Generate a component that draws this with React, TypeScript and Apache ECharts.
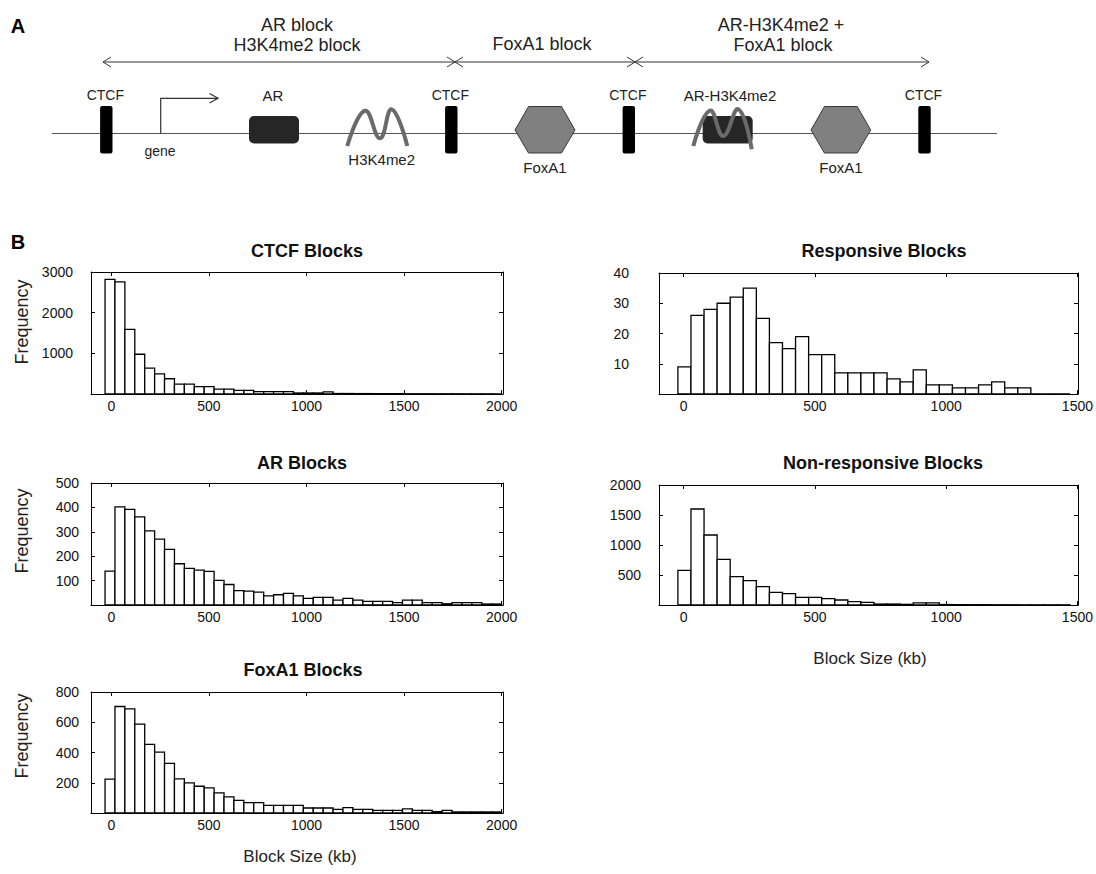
import React, { useEffect, useRef } from "react";
import * as echarts from "echarts";

// ---------- data ----------
const LEFT_BIN_START = -32;
const LEFT_BIN_WIDTH = 50.8;
const RIGHT_BIN_START = -22;
const RIGHT_BIN_WIDTH = 49.8;

const ctcfFreq = [2820, 2755, 1590, 978, 636, 497, 375, 245, 245, 180, 180, 122, 122, 90, 90, 57, 57, 57, 57, 25, 25, 25, 50, 12, 12, 10, 10, 8, 8, 8, 6, 6, 6, 5, 5, 5, 4, 4, 4, 3];
const arFreq = [139, 402, 392, 361, 304, 270, 228, 169, 150, 143, 138, 101, 84, 59, 57, 53, 37, 42, 48, 37, 27, 31, 31, 20, 27, 20, 15, 15, 15, 10, 20, 20, 10, 10, 5, 10, 10, 10, 4, 4];
const foxa1Freq = [224, 704, 689, 587, 454, 403, 328, 226, 199, 177, 166, 133, 106, 84, 69, 69, 51, 51, 51, 51, 33, 33, 33, 24, 35, 24, 24, 18, 18, 18, 27, 18, 18, 9, 18, 7, 7, 7, 7, 7];
const responsiveFreq = [9, 26, 28, 30, 32, 35, 25, 17, 15, 19, 13, 13, 7, 7, 7, 7, 5, 4, 8, 3, 3, 2, 2, 3, 4, 2, 2, 0, 0, 0];
const nonResponsiveFreq = [578, 1600, 1167, 761, 472, 406, 306, 211, 189, 128, 128, 106, 83, 56, 45, 16, 16, 11, 35, 35, 8, 6, 5, 5, 4, 4, 3, 3, 3, 3];

const leftXTicks = [0, 500, 1000, 1500, 2000];
const rightXTicks = [0, 500, 1000, 1500];

const FONT = '"Liberation Sans", Arial, Helvetica, sans-serif';

function toBins(values: number[], start: number, width: number) {
  return values.map((v, i) => [start + i * width, start + (i + 1) * width, v]);
}

const panels = [
  { title: "CTCF Blocks", titleX: 307, titleY: 251, values: ctcfFreq, binStart: LEFT_BIN_START, binWidth: LEFT_BIN_WIDTH, xMin: -104, xMax: 2007, xTicks: leftXTicks, yMax: 3000, yInterval: 1000, left: 91, top: 272, width: 412, height: 122, yMargin: 18 },
  { title: "AR Blocks", titleX: 302, titleY: 463, values: arFreq, binStart: LEFT_BIN_START, binWidth: LEFT_BIN_WIDTH, xMin: -104, xMax: 2007, xTicks: leftXTicks, yMax: 500, yInterval: 100, left: 91, top: 483, width: 412, height: 122, yMargin: 12 },
  { title: "FoxA1 Blocks", titleX: 303, titleY: 670, values: foxa1Freq, binStart: LEFT_BIN_START, binWidth: LEFT_BIN_WIDTH, xMin: -104, xMax: 2007, xTicks: leftXTicks, yMax: 800, yInterval: 200, left: 91, top: 692, width: 412, height: 121, yMargin: 12 },
  { title: "Responsive Blocks", titleX: 884, titleY: 251, values: responsiveFreq, binStart: RIGHT_BIN_START, binWidth: RIGHT_BIN_WIDTH, xMin: -94, xMax: 1502, xTicks: rightXTicks, yMax: 40, yInterval: 10, left: 659, top: 273, width: 420, height: 121, yMargin: 30 },
  { title: "Non-responsive Blocks", titleX: 883, titleY: 463, values: nonResponsiveFreq, binStart: RIGHT_BIN_START, binWidth: RIGHT_BIN_WIDTH, xMin: -94, xMax: 1502, xTicks: rightXTicks, yMax: 2000, yInterval: 500, left: 659, top: 485, width: 420, height: 120, yMargin: 18 },
];

function txt(text: string, x: number, y: number, size: number, opts: any = {}) {
  return {
    type: "text",
    x,
    y,
    rotation: opts.rotation || 0,
    style: {
      text,
      align: opts.align || "center",
      verticalAlign: "middle",
      font: `${opts.bold ? "bold " : ""}${size}px ${FONT}`,
      fill: opts.color || "#000",
    },
  };
}

function line(x1: number, y1: number, x2: number, y2: number, color = "#333", w = 1) {
  return { type: "line", shape: { x1, y1, x2, y2 }, style: { stroke: color, lineWidth: w } };
}

function chevron(x: number, y: number, dir: number) {
  return {
    type: "polyline",
    shape: { points: [[x - dir * 8, y - 5], [x, y], [x - dir * 8, y + 5]] },
    style: { stroke: "#333", lineWidth: 1, fill: "none" },
  };
}

function ctcfRect(cx: number) {
  return { type: "rect", shape: { x: cx - 6.2, y: 106, width: 12.4, height: 47.5, r: 2 }, style: { fill: "#000" } };
}

function hexagon(left: number, right: number) {
  const w = right - left;
  const t = w * 0.225;
  return {
    type: "polygon",
    shape: {
      points: [
        [left, 130],
        [left + t, 106.5],
        [right - t, 106.5],
        [right, 130],
        [right - t, 153],
        [left + t, 153],
      ],
    },
    style: { fill: "#808080", stroke: "#3a3a3a", lineWidth: 1 },
  };
}

function wave(points: number[][]) {
  return {
    type: "polyline",
    shape: { points, smooth: 0.45 },
    style: { stroke: "#6a6a6a", lineWidth: 4, fill: "none" },
  };
}

function buildGraphics() {
  const g: any[] = [];
  g.push(txt("A", 18, 26, 20, { bold: true }));
  g.push(txt("B", 18, 242, 20, { bold: true }));

  g.push(txt("AR block", 297, 25, 18, { color: "#222" }));
  g.push(txt("H3K4me2 block", 297, 45, 18, { color: "#222" }));
  g.push(txt("FoxA1 block", 542, 44, 18, { color: "#222" }));
  g.push(txt("AR-H3K4me2 +", 781, 25, 18, { color: "#222" }));
  g.push(txt("FoxA1 block", 783, 45, 18, { color: "#222" }));

  const ay = 62;
  const seg = [[103, 455], [455, 635], [635, 929]];
  seg.forEach(([a, b]) => {
    g.push(line(a, ay, b, ay, "#333", 1));
    g.push(chevron(a, ay, -1));
    g.push(chevron(b, ay, 1));
  });

  g.push(line(52, 133.5, 997, 133.5, "#555", 1));

  [106.3, 451.3, 628.8, 924.5].forEach((cx) => {
    g.push(ctcfRect(cx));
    g.push(txt("CTCF", cx - 1, 95, 14, { color: "#222" }));
  });

  g.push({
    type: "polyline",
    shape: { points: [[160.7, 133.5], [160.7, 98.3], [218, 98.3]] },
    style: { stroke: "#333", lineWidth: 1.2, fill: "none" },
  });
  g.push({
    type: "polyline",
    shape: { points: [[209.5, 93.5], [218, 98.3], [209.5, 103]] },
    style: { stroke: "#333", lineWidth: 1.2, fill: "none" },
  });
  g.push(txt("gene", 160, 151, 14, { color: "#222" }));

  g.push({ type: "rect", shape: { x: 249, y: 116, width: 50, height: 27.5, r: 5 }, style: { fill: "#262626" } });
  g.push(txt("AR", 273, 95, 15, { color: "#222" }));

  g.push(wave([[347.3, 146], [365, 110.7], [380, 138.3], [391.7, 109.3], [407.3, 146]]));
  g.push(txt("H3K4me2", 381.7, 159.5, 15, { color: "#222" }));

  g.push(hexagon(515, 575));
  g.push(txt("FoxA1", 545, 167.5, 15, { color: "#222" }));

  g.push({ type: "rect", shape: { x: 702.7, y: 116, width: 50, height: 27.5, r: 5 }, style: { fill: "#262626" } });
  g.push(wave([[693.3, 146], [710, 110.7], [723.3, 136], [738.3, 109.3], [751.7, 149.3]]));
  g.push(txt("AR-H3K4me2", 730, 95, 15, { color: "#222" }));

  g.push(hexagon(811, 870.7));
  g.push(txt("FoxA1", 841, 167.5, 15, { color: "#222" }));

  panels.forEach((p) => {
    g.push(txt(p.title, p.titleX, p.titleY, 18, { bold: true, color: "#111" }));
  });
  g.push(txt("Frequency", 22, 322, 18, { rotation: Math.PI / 2, color: "#222" }));
  g.push(txt("Frequency", 22, 531, 18, { rotation: Math.PI / 2, color: "#222" }));
  g.push(txt("Frequency", 22, 736, 18, { rotation: Math.PI / 2, color: "#222" }));
  g.push(txt("Block Size (kb)", 300, 856, 17, { color: "#222" }));
  g.push(txt("Block Size (kb)", 870, 658, 17, { color: "#222" }));
  return g;
}

const plainNumber = (v: number) => String(v);

function buildOption() {
  const axisLine = { show: true, onZero: false, lineStyle: { color: "#000", width: 1 } };
  const tickStyle = { color: "#000", width: 1 };
  const grid: any[] = [];
  const xAxis: any[] = [];
  const yAxis: any[] = [];
  const series: any[] = [];

  panels.forEach((p, i) => {
    grid.push({ left: p.left, top: p.top, width: p.width, height: p.height, containLabel: false });
    xAxis.push({
      type: "value",
      gridIndex: i,
      position: "bottom",
      min: p.xMin,
      max: p.xMax,
      splitLine: { show: false },
      axisLine,
      axisTick: { show: true, inside: true, length: 4, customValues: p.xTicks, lineStyle: tickStyle },
      axisLabel: { show: true, customValues: p.xTicks, formatter: plainNumber, margin: 5, color: "#111", fontSize: 14, fontFamily: FONT },
    });
    xAxis.push({
      type: "value",
      gridIndex: i,
      position: "top",
      min: p.xMin,
      max: p.xMax,
      splitLine: { show: false },
      axisLine,
      axisTick: { show: true, inside: true, length: 4, customValues: p.xTicks, lineStyle: tickStyle },
      axisLabel: { show: false },
    });
    yAxis.push({
      type: "value",
      gridIndex: i,
      position: "left",
      min: 0,
      max: p.yMax,
      interval: p.yInterval,
      splitLine: { show: false },
      axisLine,
      axisTick: { show: true, inside: true, length: 4, lineStyle: tickStyle },
      axisLabel: { show: true, showMinLabel: false, formatter: plainNumber, margin: p.yMargin, color: "#111", fontSize: 14, fontFamily: FONT },
    });
    yAxis.push({
      type: "value",
      gridIndex: i,
      position: "right",
      min: 0,
      max: p.yMax,
      interval: p.yInterval,
      splitLine: { show: false },
      axisLine,
      axisTick: { show: true, inside: true, length: 4, lineStyle: tickStyle },
      axisLabel: { show: false },
    });
    series.push({
      type: "custom",
      name: p.title,
      xAxisIndex: 2 * i,
      yAxisIndex: 2 * i,
      data: toBins(p.values, p.binStart, p.binWidth),
      encode: { x: [0, 1], y: 2 },
      renderItem: (params: any, api: any) => {
        const x0 = api.value(0);
        const x1 = api.value(1);
        const v = api.value(2);
        const pTop = api.coord([x0, v]);
        const pBot = api.coord([x1, 0]);
        return {
          type: "rect",
          shape: { x: pTop[0], y: pTop[1], width: pBot[0] - pTop[0], height: pBot[1] - pTop[1] },
          style: { fill: "#fff", stroke: "#000", lineWidth: 1.3 },
        };
      },
    });
  });

  return {
    animation: false,
    backgroundColor: "#fff",
    grid,
    xAxis,
    yAxis,
    series,
    graphic: { elements: buildGraphics() },
  };
}

export default function App() {
  const ref = useRef<HTMLDivElement>(null);
  useEffect(() => {
    if (!ref.current) return;
    const chart = echarts.init(ref.current, undefined, { renderer: "svg" });
    chart.setOption(buildOption() as any);
    return () => chart.dispose();
  }, []);
  return (
    <div
      ref={ref}
      style={{ position: "absolute", left: 0, top: 0, width: 1096, height: 874, background: "#fff" }}
    />
  );
}
